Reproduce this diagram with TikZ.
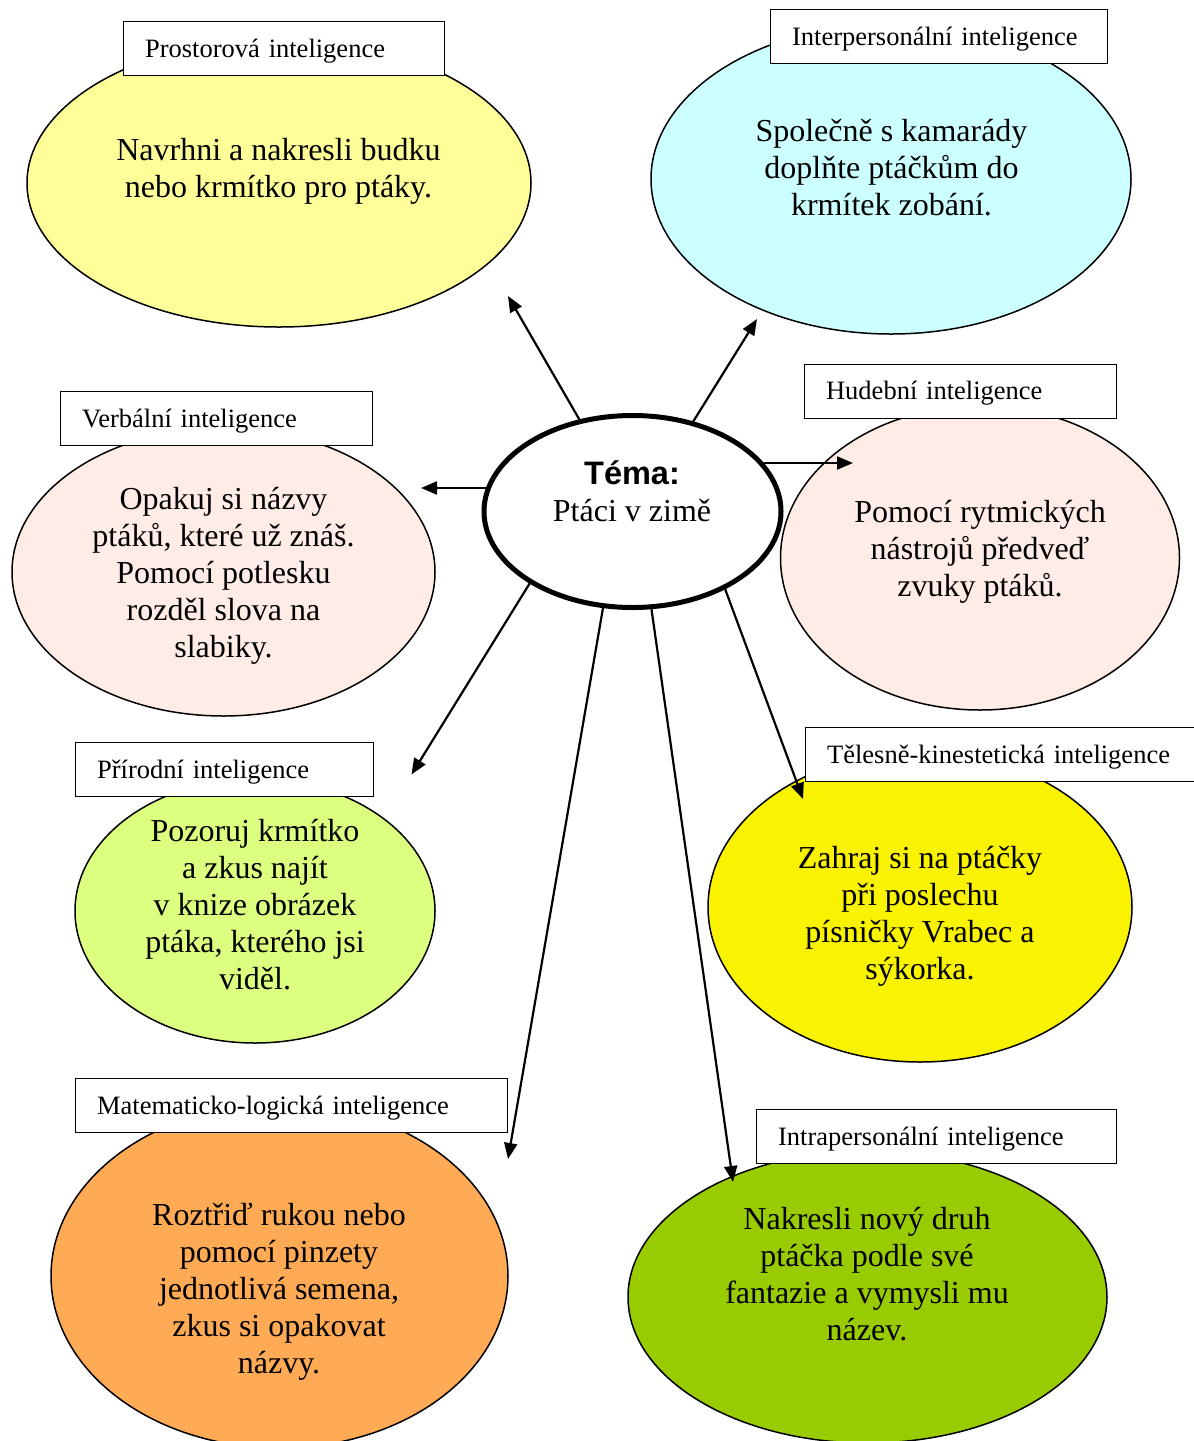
\documentclass[tikz,border=0pt]{standalone}
\usepackage{fontspec}
\setmainfont{Liberation Serif}
\newfontfamily\headsans{Liberation Sans}
\usetikzlibrary{arrows.meta,shapes.geometric}

\definecolor{paleyellow}{HTML}{FFFF99}
\definecolor{palecyan}{HTML}{CCFFFF}
\definecolor{palepink}{HTML}{FFECE6}
\definecolor{palelime}{HTML}{DDFF80}
\definecolor{brightyellow}{HTML}{F9F200}
\definecolor{softorange}{HTML}{FFAA55}
\definecolor{leafgreen}{HTML}{99CC00}

\begin{document}
\begin{tikzpicture}[x=1pt,y=-1pt,
  bubble/.style={ellipse, draw=black, line width=1.5pt, inner sep=0pt, outer sep=0pt},
  tag/.style={draw=black, line width=1.2pt, fill=white, anchor=north west,
    inner xsep=21.5pt, inner ysep=0pt, minimum height=54pt,
    text height=23pt, text depth=6pt, align=left,
    font=\fontsize{26.5}{30}\selectfont},
  % multi-line texts are placed by the baseline of their last line
  body/.style={anchor=base, align=center, inner sep=0pt,
    font=\fontsize{32}{37}\selectfont},
  link/.style={line width=2.2pt, -{Triangle[length=16pt,width=13pt]}}]

\useasboundingbox (0,0) rectangle (1194,1441);
\fill[white] (0,0) rectangle (1194,1441);

% activity bubbles
\node[bubble, fill=paleyellow,   minimum width=504pt, minimum height=288pt] (prost) at (279,183) {};
\node[bubble, fill=palecyan,     minimum width=480pt, minimum height=310pt] (inter) at (891,179) {};
\node[bubble, fill=palepink,     minimum width=423pt, minimum height=288pt] (verb)  at (223.5,572) {};
\node[bubble, fill=palepink,     minimum width=399pt, minimum height=304pt] (hud)   at (980,558) {};
\node[bubble, fill=palelime,     minimum width=360pt, minimum height=264pt] (prir)  at (255,911) {};
\node[bubble, fill=brightyellow, minimum width=424pt, minimum height=310pt] (tel)   at (920,907) {};
\node[bubble, fill=softorange,   minimum width=457pt, minimum height=344pt] (mat)   at (279.5,1276) {};
\node[bubble, fill=leafgreen,    minimum width=479pt, minimum height=292pt] (intra) at (867.5,1297) {};

% intelligence tags
\node[tag, text width=278pt] (prostL) at (123,21)   {Prostorová inteligence};
\node[tag, text width=294pt] (interL) at (770,9)    {Interpersonální inteligence};
\node[tag, text width=269pt] (verbL)  at (60,391)   {Verbální inteligence};
\node[tag, text width=269pt] (hudL)   at (804,363.5){Hudební inteligence};
\node[tag, text width=255pt] (prirL)  at (75,742)   {Přírodní inteligence};
\node[tag, text width=365pt] (telL)   at (805,727)  {Tělesně-kinestetická inteligence};
\node[tag, text width=389pt] (matL)   at (75,1078)  {Matematicko-logická inteligence};
\node[tag, text width=317pt] (intraL) at (756,1109) {Intrapersonální inteligence};

% central theme
\node[ellipse, draw=black, fill=white, line width=5pt, inner sep=0pt,
      minimum width=297pt, minimum height=192pt] (tema) at (632.5,511.5) {};
\node[body, font=\fontsize{32}{37.7}\selectfont] (temaT) at (632,521.7)
  {{\headsans\bfseries\fontsize{32.5}{37.7}\selectfont Téma:}\\Ptáci v zimě};

% activity texts
\node[body] (prostT) at (278.5,197) {Navrhni a nakresli budku\\nebo krmítko pro ptáky.};
\node[body] (interT) at (891.5,215) {Společně s kamarády\\doplňte ptáčkům do\\krmítek zobání.};
\node[body] (verbT)  at (223.5,657) {Opakuj si názvy\\ptáků, které už znáš.\\Pomocí potlesku\\rozděl slova na\\slabiky.};
\node[body] (hudT)   at (980,596.5) {Pomocí rytmických\\nástrojů předveď\\zvuky ptáků.};
\node[body] (prirT)  at (255,989.5) {Pozoruj krmítko\\a zkus najít\\v knize obrázek\\ptáka, kterého jsi\\viděl.};
\node[body] (telT)   at (920,979)   {Zahraj si na ptáčky\\při poslechu\\písničky Vrabec a\\sýkorka.};
\node[body] (matT)   at (279,1373)  {Roztřiď rukou nebo\\pomocí pinzety\\jednotlivá semena,\\zkus si opakovat\\názvy.};
\node[body] (intraT) at (867,1340)  {Nakresli nový druh\\ptáčka podle své\\fantazie a vymysli mu\\název.};

% arrow tips
\coordinate (toProst) at (508,296);
\coordinate (toInter) at (757,319);
\coordinate (toVerb)  at (421,488);
\coordinate (toHud)   at (853,463);
\coordinate (toPrir)  at (411.5,774.5);
\coordinate (toTel)   at (803,799);
\coordinate (toMat)   at (508,1159);
\coordinate (toIntra) at (733,1182);

\draw[link] (tema.120)   -- (toProst);
\draw[link] (tema.56)    -- (toInter);
\draw[link] (tema.170.9 |- toVerb) -- (toVerb);
\draw[link] (tema.20.3 |- toHud)   -- (toHud);
\draw[link] (tema.215.6) -- (toPrir);
\draw[link] (tema.320.1) -- (toTel);
\draw[link] (tema.253)   -- (toMat);
\draw[link] (tema.281.4) -- (toIntra);
\end{tikzpicture}
\end{document}
